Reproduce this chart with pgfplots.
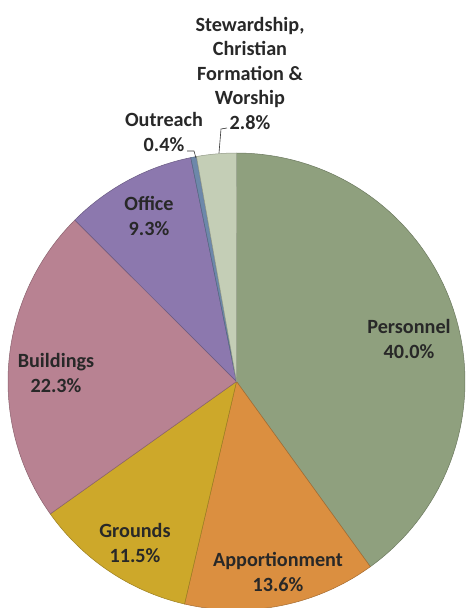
\documentclass[border=0pt]{standalone}
\usepackage{pgfplots}
\pgfplotsset{compat=1.18}
\usepackage{fontspec}
\setmainfont{Carlito}
\definecolor{cpers}{RGB}{143,160,126}
\definecolor{cappo}{RGB}{219,143,64}
\definecolor{cgrou}{RGB}{205,168,42}
\definecolor{cbuil}{RGB}{184,130,146}
\definecolor{coffi}{RGB}{140,120,174}
\definecolor{coutr}{RGB}{109,136,170}
\definecolor{cstew}{RGB}{196,206,182}
\definecolor{ctxt}{RGB}{40,40,40}
\newcommand{\cx}{236.5}
\newcommand{\cy}{381.5}
\newcommand{\rr}{228.5}
\tikzset{lbl/.style={font=\fontsize{20.2bp}{24.5bp}\selectfont\bfseries, text=ctxt, align=center, inner sep=0pt}}
% slice from cumulative percent #1 to #2 (total 99.9)
\newcommand{\slice}[3]{%
  \addplot[fill=#3, draw=#3!75!black, line width=0.5pt, domain={360*#1/99.9}:{360*#2/99.9}, samples=90, variable=\t]
    ({\cx+\rr*sin(\t)},{\cy-\rr*cos(\t)}) -- (axis cs:\cx,\cy) -- cycle;}
\begin{document}
\begin{tikzpicture}
\useasboundingbox (0,0) rectangle (466bp,608bp);
\begin{axis}[
  at={(0,0)}, anchor=south west,
  scale only axis, width=466bp, height=608bp,
  xmin=0, xmax=466, ymin=0, ymax=608, y dir=reverse,
  hide axis, clip=true,
]
% values: Personnel 40.0, Apportionment 13.6, Grounds 11.5, Buildings 22.3, Office 9.3, Outreach 0.4, Stewardship 2.8
\slice{0}{40.0}{cpers}
\slice{40.0}{53.6}{cappo}
\slice{53.6}{65.1}{cgrou}
\slice{65.1}{87.4}{cbuil}
\slice{87.4}{96.7}{coffi}
\slice{96.7}{97.1}{coutr}
\slice{97.1}{99.9}{cstew}
\draw[black!80, line width=0.6pt] (axis cs:219,153) -- (axis cs:221,129) -- (axis cs:227,128);
\draw[black!80, line width=0.6pt] (axis cs:187,151) -- (axis cs:194,151) -- (axis cs:196,158);
\node[lbl] at (axis cs:409,339) {Personnel\\40.0\%};
\node[lbl] at (axis cs:278,572) {Apportionment\\13.6\%};
\node[lbl] at (axis cs:135,543) {Grounds\\11.5\%};
\node[lbl] at (axis cs:56,373) {Buildings\\22.3\%};
\node[lbl] at (axis cs:149,216) {Office\\9.3\%};
\node[lbl] at (axis cs:164,132) {Outreach\\0.4\%};
\node[lbl] at (axis cs:250,73) {Stewardship,\\Christian\\Formation \&\\Worship\\2.8\%};
\end{axis}
\end{tikzpicture}
\end{document}
